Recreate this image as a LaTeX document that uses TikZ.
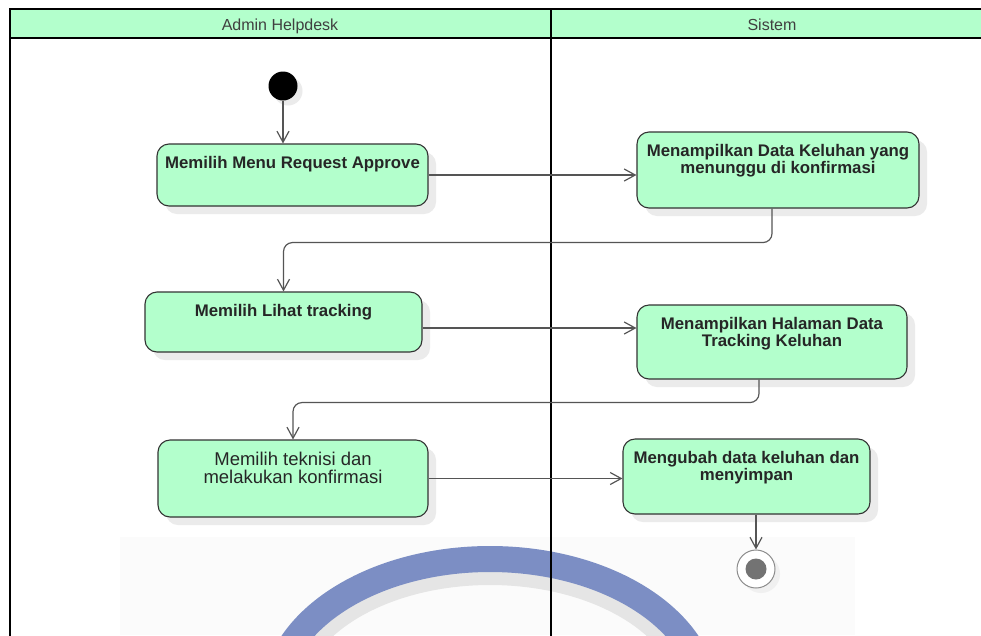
\documentclass[tikz,border=0pt]{standalone}
\usepackage{fontspec}
\setmainfont{Liberation Sans}
\usetikzlibrary{positioning, arrows.meta, shadows}
\definecolor{mint}{RGB}{179,255,204}
\definecolor{edge}{RGB}{85,85,85}
\definecolor{ring}{RGB}{124,142,196}

\begin{document}
\begin{tikzpicture}[x=1pt, y=-1pt,
        lane/.style={line width=2.5pt, black},
        act/.style={rectangle, rounded corners=12pt, draw=black!80, line width=1.1pt, fill=mint, inner sep=0pt,
            drop shadow={shadow xshift=8pt, shadow yshift=-8pt, fill=black!8, opacity=1}},
        acttext/.style={align=center, inner sep=0pt, text=black!85, font=\fontsize{16.8}{17}\selectfont\bfseries},
        flow/.style={-{Straight Barb[length=11pt, width=12pt]}, line width=1.2pt, draw=edge, rounded corners=9pt},
        head/.style={anchor=base, text=black!75, font=\fontsize{16}{19}\selectfont}]
    \useasboundingbox (0, 0) rectangle (981, 635);
    \clip (0, 0) rectangle (981, 635);
    \fill [white] (0, 0) rectangle (981, 635);

    \fill [black!1.5] (120, 537) rectangle (855, 635);
    \draw [black!10, line width=14pt] (490, 700) ellipse [x radius=196pt, y radius=122pt];
    \draw [ring, line width=26pt] (490, 700) ellipse [x radius=216pt, y radius=141pt];

    \fill [mint] (10, 9) rectangle (990, 38);
    \draw [lane] (10, 640) -- (10, 9) -- (990, 9);
    \draw [lane] (10, 38) -- (990, 38);
    \draw [lane] (551, 9) -- (551, 640);
    \node (admin) [head] at (280, 30.5) {Admin Helpdesk};
    \node (sistem) [head] at (772, 30.5) {Sistem};

    \node (init) [circle, fill=black, minimum size=29pt, inner sep=0pt,
        drop shadow={shadow xshift=5pt, shadow yshift=-5pt, fill=black!8, opacity=1}] at (283, 86) {};

    \node (menu) [act, minimum width=271pt, minimum height=62pt] at (292.5, 175) {};
    \node (menu-t) [acttext, below=13pt of menu.north] {Memilih Menu Request Approve};

    \node (tampil) [act, minimum width=282pt, minimum height=76pt] at (778, 170) {};
    \node (tampil-t) [acttext, below=13pt of tampil.north] {Menampilkan Data Keluhan yang\\menunggu di konfirmasi};

    \node (lihat) [act, minimum width=277pt, minimum height=60pt] at (283.5, 322) {};
    \node (lihat-t) [acttext, below=13pt of lihat.north] {Memilih Lihat tracking};

    \node (halaman) [act, minimum width=270pt, minimum height=74pt] at (772, 342) {};
    \node (halaman-t) [acttext, below=13pt of halaman.north] {Menampilkan Halaman Data\\Tracking Keluhan};

    \node (teknisi) [act, minimum width=270pt, minimum height=77pt] at (293, 478.5) {};
    \node (teknisi-t) [acttext, below=12.5pt of teknisi.north, font=\fontsize{18.5}{18}\selectfont] {Memilih teknisi dan\\melakukan konfirmasi};

    \node (ubah) [act, minimum width=247pt, minimum height=75pt] at (746.5, 476.5) {};
    \node (ubah-t) [acttext, below=13pt of ubah.north] {Mengubah data keluhan dan\\menyimpan};

    \node (final) [circle, draw=black!45, line width=1pt, fill=white, minimum size=38pt, inner sep=0pt,
        drop shadow={shadow xshift=5pt, shadow yshift=-5pt, fill=black!6, opacity=1}] at (756, 569) {};
    \node (final-in) [circle, fill=black!55, minimum size=21pt, inner sep=0pt] at (final) {};

    \draw [flow] (init) -- (init |- menu.north);
    \draw [flow] (menu.east) -- (menu.east -| tampil.west);
    \draw [flow] ([xshift=-6pt]tampil.south) -- ++(0, 34) -| (lihat.north);
    \draw [flow] ([yshift=-6pt]lihat.east) -- ([yshift=-6pt]lihat.east -| halaman.west);
    \draw [flow] ([xshift=-13pt]halaman.south) -- ++(0, 23) -| (teknisi.north);
    \draw [flow] (teknisi.east) -- (teknisi.east -| ubah.west);
    \draw [flow] (final |- ubah.south) -- (final);
\end{tikzpicture}
\end{document}
